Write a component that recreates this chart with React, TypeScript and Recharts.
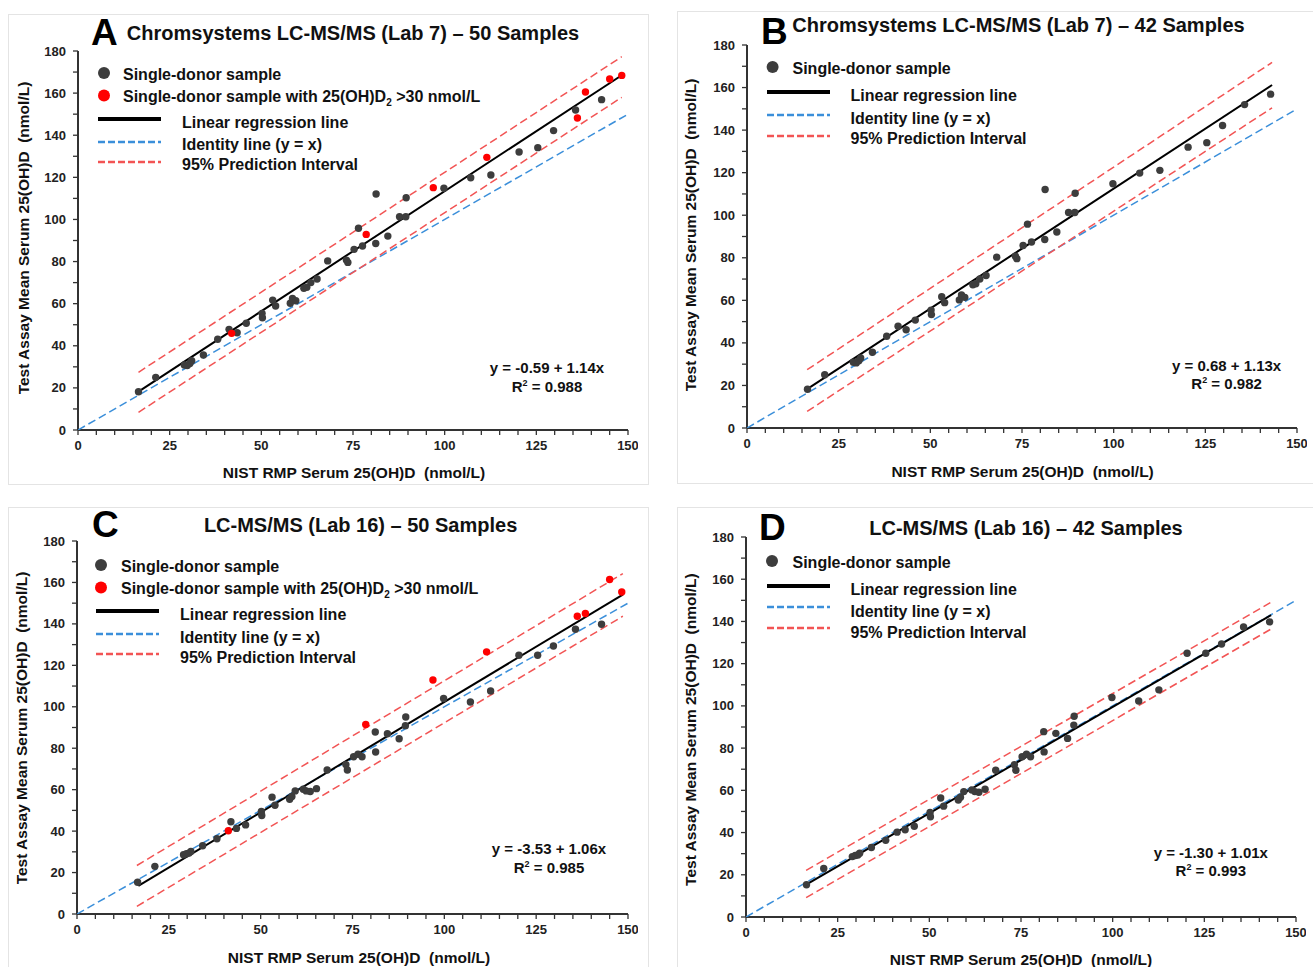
// Four-panel method comparison: test assay vs NIST RMP serum 25(OH)D.
// Each panel is a Recharts ScatterChart; titles, legends and equations sit in
// an SVG overlay so they can be placed where the original figure puts them.

import { Scatter, ScatterChart, XAxis, YAxis } from "recharts";

const FONT = "'Liberation Sans', Arial, Helvetica, sans-serif";

// NIST RMP values, same 50 samples in every panel
const nist = [
  16.5, 21.2, 29.0, 29.8, 30.5, 31.0, 34.2, 38.1, 41.2, 41.9,
  43.4, 45.9, 50.2, 50.3, 53.1, 53.9, 57.9, 58.5, 59.4, 61.6,
  62.4, 63.5, 65.2, 68.1, 73.2, 73.6, 75.3, 76.5, 77.6, 78.6,
  81.3, 81.2, 84.5, 87.7, 89.4, 89.5, 96.9, 99.8, 107.1, 111.5,
  112.6, 120.3, 125.4, 129.7, 135.7, 136.2, 138.4, 142.8, 145.0, 148.3,
];
// Chromsystems LC-MS/MS (Lab 7)
const lab7 = [
  18.2, 25.0, 30.9, 30.6, 31.6, 32.9, 35.6, 43.1, 47.8, 45.9,
  46.2, 50.7, 55.4, 53.3, 61.7, 58.9, 60.2, 62.5, 61.4, 67.3,
  67.8, 70.0, 71.7, 80.3, 80.7, 79.6, 85.8, 95.8, 87.4, 92.9,
  112.1, 88.6, 92.1, 101.3, 101.3, 110.3, 115.1, 114.8, 119.8, 129.5,
  121.1, 132.0, 134.1, 142.2, 152.0, 148.2, 160.5, 156.9, 166.7, 168.4,
];
// LC-MS/MS (Lab 16)
const lab16 = [
  15.3, 23.0, 28.6, 29.1, 29.4, 30.2, 32.9, 36.3, 40.2, 44.5,
  41.3, 43.0, 49.5, 47.5, 56.4, 52.5, 55.4, 56.7, 59.4, 60.2,
  59.4, 59.1, 60.5, 69.5, 72.1, 69.5, 75.9, 77.1, 75.9, 91.5,
  78.2, 87.8, 87.0, 84.6, 90.9, 95.1, 112.9, 104.0, 102.3, 126.5,
  107.6, 124.9, 124.9, 129.3, 137.4, 143.7, 145.0, 139.8, 161.4, 155.4,
];
// samples drawn red (25(OH)D2 > 30 nmol/L)
const d2Lab7 = [9, 29, 36, 39, 45, 46, 48, 49];
const d2Lab16 = [8, 29, 36, 39, 45, 46, 48, 49];
// samples left out of the 42-sample panels
const dropped42 = [9, 29, 36, 39, 45, 46, 48, 49];

// fitted lines: [x1, y1, x2, y2]
const identity = [0, 0, 150, 150];
const regA = [16.5, 18.2, 148.3, 168.5];
const piHiA = [16.5, 27.4, 148.3, 177.3];
const piLoA = [16.5, 8.4, 148.3, 158.0];
const regB = [16.6, 18.5, 143.2, 161.2];
const piHiB = [16.4, 27.4, 143.2, 171.8];
const piLoB = [16.4, 7.8, 143.2, 150.5];
const regC = [16.7, 13.6, 148.6, 154.1];
const piHiC = [16.3, 23.4, 148.6, 164.3];
const piLoC = [16.3, 3.7, 148.6, 143.7];
const regD = [16.4, 15.3, 143.2, 143.0];
const piHiD = [16.4, 22.1, 143.0, 148.9];
const piLoD = [16.4, 9.2, 143.0, 136.2];

const xTicks = [0, 5, 10, 15, 20, 25, 30, 35, 40, 45, 50, 55, 60, 65, 70, 75, 80, 85, 90, 95, 100, 105, 110, 115, 120, 125, 130, 135, 140, 145, 150];
const yTicks = [0, 10, 20, 30, 40, 50, 60, 70, 80, 90, 100, 110, 120, 130, 140, 150, 160, 170, 180];

const TITLE_Y = "Test Assay Mean Serum 25(OH)D  (nmol/L)";
const TITLE_X = "NIST RMP Serum 25(OH)D  (nmol/L)";

const C_DOT = "#3d3d3d";
const C_RED = "#ff0000";
const C_BLUE = "#3b8fda";
const C_PI = "#f25454";
const C_AXIS = "#333333";

const pts = (ys: number[], keep: (i: number) => boolean) =>
  nist.map((x, i) => ({ x, y: ys[i], i })).filter((p) => keep(p.i));
const seg = (s: number[]) => [{ x: s[0], y: s[1] }, { x: s[2], y: s[3] }];

const panels = [
  {
    key: "A", ys: lab7, red: d2Lab7, only42: false, reg: regA, hi: piHiA, lo: piLoA,
    chart: [28, 41, 610, 419], box: [8, 14, 640, 470],
    letter: [91, 45], title: "Chromsystems LC-MS/MS (Lab 7) \u2013 50 Samples", titlePos: [353, 40],
    yt: [23.5, 238], xt: [354, 473],
    eq: "y = -0.59 + 1.14x", r2: "0.988", eqPos: [547, 368, 387],
    lg: { cx: 104, tx1: 123, lx1: 98, lx2: 161, tx2: 182, dots: [74, 96.5], lines: [119, 142, 162], texts: [122, 144, 164] },
  },
  {
    key: "B", ys: lab7, red: [], only42: true, reg: regB, hi: piHiB, lo: piLoB,
    chart: [697, 35, 610, 423], box: [677, 11, 700, 472],
    letter: [761, 44], title: "Chromsystems LC-MS/MS (Lab 7) \u2013 42 Samples", titlePos: [1018.5, 32],
    yt: [691, 235], xt: [1022.6, 472],
    eq: "y = 0.68 + 1.13x", r2: "0.982", eqPos: [1226.6, 365.7, 384],
    lg: { cx: 772.6, tx1: 792.5, lx1: 767, lx2: 830, tx2: 850.5, dots: [68], lines: [92, 115, 136], texts: [95.5, 118, 138.5] },
  },
  {
    key: "C", ys: lab16, red: d2Lab16, only42: false, reg: regC, hi: piHiC, lo: piLoC,
    chart: [27, 531, 611, 413], box: [8, 507, 640, 480],
    letter: [92, 537], title: "LC-MS/MS (Lab 16) \u2013 50 Samples", titlePos: [360.6, 532],
    yt: [22, 728], xt: [359, 958],
    eq: "y = -3.53 + 1.06x", r2: "0.985", eqPos: [549, 848.7, 867.7],
    lg: { cx: 101, tx1: 121, lx1: 96, lx2: 159, tx2: 180, dots: [566, 588.5], lines: [611, 634, 654], texts: [614, 637, 657] },
  },
  {
    key: "D", ys: lab16, red: [], only42: true, reg: regD, hi: piHiD, lo: piLoD,
    chart: [696, 527, 610, 420], box: [677, 507, 700, 480],
    letter: [759, 540], title: "LC-MS/MS (Lab 16) \u2013 42 Samples", titlePos: [1026, 535],
    yt: [691, 729.6], xt: [1021, 960],
    eq: "y = -1.30 + 1.01x", r2: "0.993", eqPos: [1210.8, 852.7, 871],
    lg: { cx: 772, tx1: 792.5, lx1: 767, lx2: 830, tx2: 850.5, dots: [562], lines: [586, 607, 628], texts: [589, 611, 632] },
  },
];

const XTick = (p: any) =>
  p.payload.value % 25 === 0 ? (
    <text x={p.x} y={p.y + 13} textAnchor="middle" fontFamily={FONT} fontWeight="bold" fontSize={13} fill="#222">
      {p.payload.value}
    </text>
  ) : <g />;

const YTick = (p: any) =>
  p.payload.value % 20 === 0 ? (
    <text x={p.x - 5} y={p.y + 4.5} textAnchor="end" fontFamily={FONT} fontWeight="bold" fontSize={13} fill="#222">
      {p.payload.value}
    </text>
  ) : <g />;

const dot = (fill: string) => (p: any) => <circle cx={p.cx} cy={p.cy} r={3.7} fill={fill} />;
const noShape = () => <g />;

function Plot({ cfg }: { cfg: any }) {
  const [left, top, w, h] = cfg.chart;
  const keepBlack = cfg.only42
    ? (i: number) => !dropped42.includes(i)
    : (i: number) => !cfg.red.includes(i);
  const black = pts(cfg.ys, keepBlack);
  const red = cfg.only42 ? [] : pts(cfg.ys, (i) => cfg.red.includes(i));
  return (
    <div style={{ position: "absolute", left, top }}>
      <ScatterChart width={w} height={h} margin={{ top: 10, right: 10, bottom: 0, left: 0 }}>
        <XAxis type="number" dataKey="x" domain={[0, 150]} ticks={xTicks} interval={0} height={30}
               tick={XTick} tickSize={5} axisLine={{ stroke: C_AXIS, strokeWidth: 2 }}
               tickLine={{ stroke: C_AXIS, strokeWidth: 1.3 }} allowDataOverflow />
        <YAxis type="number" dataKey="y" domain={[0, 180]} ticks={yTicks} interval={0} width={50}
               tick={YTick} tickSize={5} axisLine={{ stroke: C_AXIS, strokeWidth: 2 }}
               tickLine={{ stroke: C_AXIS, strokeWidth: 1.3 }} allowDataOverflow />
        <Scatter isAnimationActive={false} data={seg(identity)} shape={noShape}
                 line={{ stroke: C_BLUE, strokeWidth: 1.5, strokeDasharray: "8 4" }} />
        <Scatter isAnimationActive={false} data={seg(cfg.hi)} shape={noShape}
                 line={{ stroke: C_PI, strokeWidth: 1.5, strokeDasharray: "8 4" }} />
        <Scatter isAnimationActive={false} data={seg(cfg.lo)} shape={noShape}
                 line={{ stroke: C_PI, strokeWidth: 1.5, strokeDasharray: "8 4" }} />
        <Scatter isAnimationActive={false} data={seg(cfg.reg)} shape={noShape}
                 line={{ stroke: "#000", strokeWidth: 2 }} />
        <Scatter isAnimationActive={false} data={black} shape={dot(C_DOT)} />
        {red.length > 0 && <Scatter isAnimationActive={false} data={red} shape={dot(C_RED)} />}
      </ScatterChart>
    </div>
  );
}

function Overlay({ cfg }: { cfg: any }) {
  const lg = cfg.lg;
  const fs = 16;
  const dotLabels = cfg.only42
    ? [["Single-donor sample", C_DOT]]
    : [["Single-donor sample", C_DOT], ["Single-donor sample with 25(OH)D", C_RED]];
  const lineItems = [
    ["Linear regression line", "#000", 4, undefined],
    ["Identity line (y = x)", C_BLUE, 2.5, "7 3"],
    ["95% Prediction Interval", C_PI, 2.5, "7 3"],
  ];
  const [bx, by, bw, bh] = cfg.box;
  return (
    <g fontFamily={FONT} fontWeight="bold" fill="#111">
      <rect x={bx + 0.5} y={by + 0.5} width={bw} height={bh} fill="none" stroke="#e4e4e4" strokeWidth={1} />
      <text x={cfg.letter[0]} y={cfg.letter[1]} fontSize={37} fill="#000">{cfg.key}</text>
      <text x={cfg.titlePos[0]} y={cfg.titlePos[1]} fontSize={20} textAnchor="middle">{cfg.title}</text>
      <text transform={`translate(${cfg.yt[0]},${cfg.yt[1]}) rotate(-90)`} y={5.4} fontSize={15.5}
            textAnchor="middle" style={{ whiteSpace: "pre" }}>{TITLE_Y}</text>
      <text x={cfg.xt[0]} y={cfg.xt[1] + 5.4} fontSize={15.5} textAnchor="middle" style={{ whiteSpace: "pre" }}>
        {TITLE_X}
      </text>
      <text x={cfg.eqPos[0]} y={cfg.eqPos[1] + 5.3} fontSize={15} textAnchor="middle">{cfg.eq}</text>
      <text x={cfg.eqPos[0]} y={cfg.eqPos[2] + 5.3} fontSize={15} textAnchor="middle">
        R<tspan fontSize={9} dy={-6}>2</tspan><tspan dy={6}>{" = " + cfg.r2}</tspan>
      </text>
      {dotLabels.map((d, k) => (
        <g key={k}>
          <circle cx={lg.cx} cy={lg.dots[k] - 1} r={6} fill={d[1]} />
          <text x={lg.tx1} y={lg.dots[k] + 5.7} fontSize={fs}>
            {d[0]}
            {k === 1 && (
              <>
                <tspan fontSize={10} dy={4}>2</tspan>
                <tspan dy={-4}>{" >30 nmol/L"}</tspan>
              </>
            )}
          </text>
        </g>
      ))}
      {lineItems.map((l: any, k) => (
        <g key={k}>
          <line x1={lg.lx1} x2={lg.lx2} y1={lg.lines[k]} y2={lg.lines[k]} stroke={l[1]} strokeWidth={l[2]}
                strokeDasharray={l[3]} />
          <text x={lg.tx2} y={lg.texts[k] + 5.7} fontSize={fs}>{l[0]}</text>
        </g>
      ))}
    </g>
  );
}

export default function App() {
  return (
    <div style={{ position: "absolute", left: 0, top: 0, width: 1313, height: 967, background: "#fff", overflow: "hidden" }}>
      <svg width={1313} height={967} style={{ position: "absolute", left: 0, top: 0 }}>
        {panels.map((p) => <Overlay key={p.key} cfg={p} />)}
      </svg>
      {panels.map((p) => <Plot key={p.key} cfg={p} />)}
    </div>
  );
}
